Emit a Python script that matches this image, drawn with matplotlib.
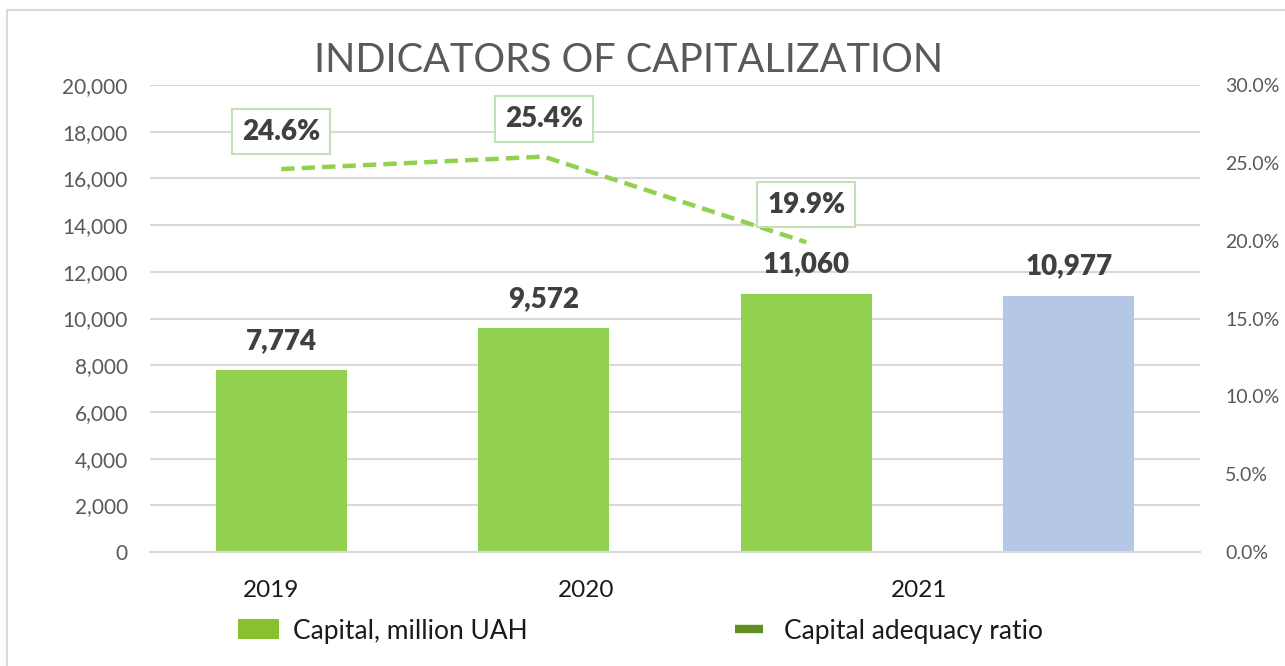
import matplotlib
matplotlib.use('agg')
from matplotlib import pyplot as plt
from matplotlib.lines import Line2D
from matplotlib.patches import Patch, Rectangle
from matplotlib.ticker import FuncFormatter, MultipleLocator

plt.rcParams['font.family'] = ['Lato', 'DejaVu Sans']

# data
capital = [7774, 9572, 11060, 10977]
ratio = [24.6, 25.4, 19.9]
bar_colors = ['#92d050', '#92d050', '#92d050', '#b4c7e7']
year_labels = ['2019', '2020', '2021']
year_pos = [-0.04, 1.16, 2.43]

fig = plt.figure(figsize=(12.85, 6.66), dpi=100)
fig.patches.append(Rectangle((7 / 1285, -0.1), 1.2, (656 / 666) + 0.1,
                             transform=fig.transFigure, fill=False,
                             edgecolor='#d9d9d9', linewidth=1.5))

ax = fig.add_axes([150 / 1285, 114 / 666, 1050 / 1285, 467 / 666])
x = list(range(len(capital)))
bars = ax.bar(x, capital, width=0.5, color=bar_colors, zorder=2)
ax.set_xlim(-0.5, 3.5)
ax.set_ylim(0, 20000)
ax.yaxis.set_major_locator(MultipleLocator(2000))
ax.yaxis.set_major_formatter(FuncFormatter(lambda v, p: f'{v:,.0f}'))
ax.grid(axis='y', color='#d9d9d9', linewidth=1.5, zorder=0)
ax.set_axisbelow(True)
for s in ['top', 'right', 'left']:
    ax.spines[s].set_visible(False)
ax.spines['bottom'].set_color('#d9d9d9')
ax.spines['bottom'].set_linewidth(1.5)
ax.tick_params(axis='y', length=0, labelsize=15, labelcolor='#595959', pad=16)
ax.set_xticks(year_pos)
ax.set_xticklabels(year_labels)
ax.tick_params(axis='x', length=0, labelsize=17.5, labelcolor='#1a1a1a', pad=20)

for b, v in zip(bars, capital):
    ax.annotate(f'{v:,}', (b.get_x() + b.get_width() / 2, v), xytext=(0, 12),
                textcoords='offset points', ha='center', va='bottom',
                fontsize=20, fontweight='heavy', color='#404040')

ax2 = ax.twinx()
ax2.set_ylim(0, 30)
ax2.yaxis.set_major_locator(MultipleLocator(5))
ax2.yaxis.set_major_formatter(FuncFormatter(lambda v, p: f'{v:.1f}%'))
for s in ['top', 'right', 'left', 'bottom']:
    ax2.spines[s].set_visible(False)
ax2.tick_params(axis='y', length=0, labelsize=14, labelcolor='#595959', pad=18)
ax2.plot(x[:len(ratio)], ratio, color='#92d050', linewidth=3.2,
         linestyle=(0, (3, 1.6)), zorder=3)
for xi, r in zip(x, ratio):
    ax2.annotate(f'{r:.1f}%', (xi, r), xytext=(0, 27),
                 textcoords='offset points', ha='center', va='center',
                 fontsize=20, fontweight='heavy', color='#404040',
                 bbox=dict(boxstyle='square,pad=0.35', facecolor='white',
                           edgecolor='#c5e0b4', linewidth=1.5))

fig.text(629 / 1285, 1 - 60 / 666, 'INDICATORS OF CAPITALIZATION',
         ha='center', va='center', fontsize=28.5, color='#595959')

handles = [Patch(facecolor='#88c030', edgecolor='none'),
           Line2D([], [], color='#5f8f1f', marker='_', markersize=20,
                  markeredgewidth=6, linestyle='none')]
fig.legend(handles, ['Capital, million UAH', 'Capital adequacy ratio'],
           loc='center left', bbox_to_anchor=(214 / 1285, 1 - 631 / 666),
           ncol=2, frameon=False, fontsize=19, handlelength=1.55,
           handleheight=0.8, handletextpad=0.55, columnspacing=7.6,
           labelcolor='#1a1a1a')

fig.savefig('out.png', dpi=100)
